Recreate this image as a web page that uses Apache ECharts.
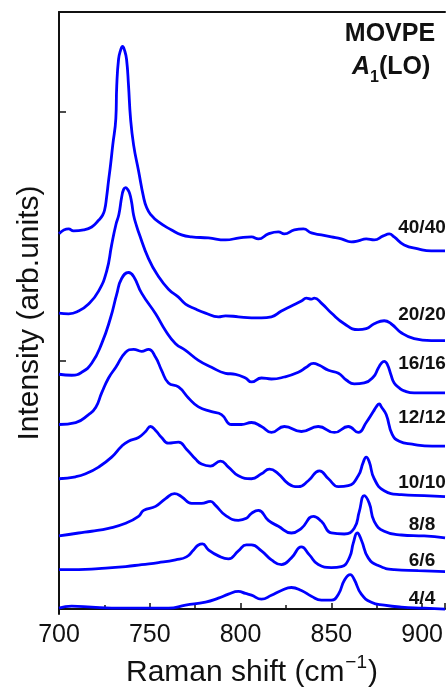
<!DOCTYPE html>
<html>
<head>
<meta charset="utf-8">
<script src="https://cdn.jsdelivr.net/npm/echarts@6/dist/echarts.min.js"></script>
<style>
  html, body { margin: 0; padding: 0; background: #ffffff; }
  #chart { width: 446px; height: 693px; }
</style>
</head>
<body>
<div id="chart"></div>
<script>
// Raman spectra (A1(LO) region) of MOVPE samples, stacked with vertical offsets.
// x: Raman shift in cm^-1, y: intensity in arbitrary units (offset included).
const xTickValues = [700, 750, 800, 850, 900];
const yTickValues = [0, 10, 20];
const sampleNames = ['40/40', '20/20', '16/16', '12/12', '10/10', '8/8', '6/6', '4/4'];

const spec40 = [
  [700,15.09],[705.3,15.28],[708,15.20],[713.6,15.24],[718,15.36],[721.8,15.63],[724,15.83],
  [725.2,16.07],[726.2,16.55],[727.3,17.22],[728.4,17.86],[729.6,18.65],[731.3,19.72],
  [731.8,21.03],[732.8,22.10],[733.9,22.46],[735,22.62],[736.1,22.46],[737.2,22.10],
  [738.3,21.03],[739.4,19.72],[741.1,18.65],[743.8,17.62],[746.6,16.55],[748.2,16.15],
  [750.4,15.87],[754.8,15.56],[762,15.24],[767.5,15.04],[773,14.96],[782.3,14.92],[791.7,14.84],
  [799.4,14.92],[806,14.96],[809.8,14.88],[815.3,15.08],[820.8,15.16],[824.1,15.08],[829.6,15.24],
  [834.6,15.28],[839,15.12],[844.5,15.04],[850,14.96],[855.5,14.88],[861,14.76],[864.8,14.80],
  [869.2,14.88],[873.6,14.84],[878.6,15.00],[881.9,15.08],[884.6,14.96],[890.1,14.64],
  [897.8,14.48],[905,14.40],[912.6,14.40]
];
const spec20 = [
  [700,11.90],[705.3,11.87],[710.8,11.98],[716.3,12.26],[721.8,12.78],[726.2,13.57],[729,14.64],
  [731.3,15.44],[733,15.87],[734.5,16.55],[735.6,16.87],[736.7,16.94],[737.8,16.87],
  [738.9,16.71],[740,16.35],[741.1,15.83],[742.7,15.40],[743.8,15.16],[749.3,14.09],
  [754.8,13.37],[760.3,12.86],[765.8,12.54],[769.7,12.26],[775.2,12.06],[780.7,11.90],
  [787.8,11.75],[791.7,11.79],[798.8,11.75],[806,11.71],[811.5,11.71],[817,11.75],[822.5,11.98],
  [828,12.18],[833.5,12.38],[836.2,12.50],[839,12.46],[840.6,12.50],[844.5,12.30],[850,11.90],
  [857.1,11.47],[864.8,11.23],[869.2,11.27],[873.6,11.47],[879.1,11.59],[882.9,11.47],
  [888.5,11.11],[895.6,10.87],[905,10.79],[912.6,10.79]
];
const spec16 = [
  [700,9.44],[707,9.40],[712.5,9.52],[718,9.88],[723.5,10.67],[728.4,11.71],[731.8,12.66],
  [734.5,13.29],[738.3,13.53],[741.1,13.37],[745.5,12.70],[753.2,11.87],[758.7,11.19],
  [764.2,10.67],[769.7,10.40],[776.8,10.00],[784,9.72],[791.7,9.48],[797.2,9.44],[802.7,9.29],
  [806,9.13],[811.5,9.29],[817,9.25],[824.1,9.33],[831.8,9.52],[836.2,9.72],[840.1,9.88],
  [843.4,9.80],[848.4,9.60],[853.9,9.48],[858.2,9.21],[862.6,9.05],[868.1,9.09],[873.1,9.33],
  [875.8,9.68],[877.5,9.88],[879.1,9.96],[880.8,9.84],[882.9,9.40],[884.6,9.09],[887.4,8.89],
  [890.1,8.77],[895.6,8.69],[912.6,8.69]
];
const spec12 = [
  [700,7.42],[709.2,7.50],[716.3,7.82],[720.2,8.10],[723.5,8.69],[727.3,9.29],[731.3,9.72],
  [736.7,10.32],[741.1,10.44],[745.5,10.36],[749.3,10.44],[753.2,10.12],[756.5,9.60],
  [760.3,9.09],[765.8,8.93],[771.3,8.49],[776.8,8.13],[784,7.94],[789.5,7.82],[795,7.42],
  [800.5,7.42],[806,7.50],[811.5,7.34],[817,7.10],[824.1,7.34],[833.5,7.14],[842.8,7.34],
  [851.7,7.10],[859.3,7.34],[864.8,7.10],[869.2,7.50],[873.1,7.94],[874.7,8.13],[876.4,8.25],
  [877.5,8.13],[880.2,7.82],[883.5,7.02],[887.4,6.75],[894.5,6.63],[905.5,6.55],[912.6,6.55]
];
const spec10 = [
  [700,5.24],[709.2,5.32],[714.7,5.44],[721.8,5.71],[729,6.11],[734.5,6.55],[738.3,6.75],
  [743.8,6.90],[747.7,7.14],[750.4,7.34],[753.2,7.18],[756.5,6.90],[760.3,6.67],[765.8,6.71],
  [770.2,6.43],[775.2,6.03],[778.5,5.83],[783.4,5.75],[788.9,5.95],[793.3,5.71],[798.8,5.36],
  [806,5.24],[811.5,5.44],[815.9,5.63],[820.8,5.44],[826.3,5.04],[831.8,4.92],[837.3,5.16],
  [843.4,5.56],[848.4,5.24],[853.9,4.92],[859.3,4.96],[864.8,5.36],[867.6,5.91],[869.2,6.11],
  [870.9,5.91],[873.6,5.24],[879.1,4.76],[888.5,4.60],[901.1,4.56],[912.6,4.52]
];
const spec8 = [
  [700,2.94],[710.8,3.06],[718,3.13],[727.3,3.25],[736.7,3.45],[743.8,3.73],[746.6,3.97],
  [753.2,4.13],[758.7,4.44],[763.6,4.64],[767.5,4.52],[773,4.25],[778.5,4.25],[783.4,4.33],
  [786.2,4.17],[791.7,3.77],[798.8,3.57],[803.2,3.65],[806,3.85],[809.8,3.97],[815.3,3.57],
  [820.8,3.33],[828,3.06],[833.5,3.25],[840.1,3.73],[844.5,3.53],[850,3.06],[857.1,3.02],
  [862.6,3.25],[865.4,3.93],[868.1,4.56],[870.9,4.25],[873.6,3.53],[879.1,3.13],[888.5,2.98],
  [901.1,2.94],[912.6,2.86]
];
const spec6 = [
  [700,1.59],[710.8,1.59],[721.8,1.63],[736.7,1.71],[745.5,1.79],[754.8,1.87],[764.2,1.98],
  [770.2,2.10],[774.1,2.38],[776.8,2.58],[779,2.62],[782.3,2.38],[787.8,2.14],[793.3,2.02],
  [798.8,2.34],[803.2,2.58],[806,2.58],[811.5,2.34],[817,1.98],[822.5,1.79],[828,2.06],
  [833.5,2.50],[837.9,2.18],[842.8,1.79],[850,1.67],[855.5,1.71],[859.9,2.06],[862.1,2.66],
  [864.3,3.06],[866.5,2.78],[870.3,2.06],[875.8,1.75],[884.6,1.59],[897.8,1.55],[912.6,1.51]
];
const spec4 = [
  [700,0.04],[707,0.12],[718,0.08],[729,0.04],[742.2,0.04],[753.2,0.04],[760.3,0.04],
  [769.7,0.16],[780.7,0.28],[787.8,0.44],[793.3,0.60],[798.8,0.71],[802.7,0.63],[806,0.56],
  [811.5,0.40],[817,0.56],[822.5,0.75],[828,0.87],[833.5,0.75],[839,0.52],[844.5,0.36],
  [850,0.36],[853.9,0.60],[857.1,1.15],[860.4,1.39],[862.6,1.19],[866.5,0.60],[872,0.28],
  [879.1,0.16],[888.5,0.08],[901.1,0.04],[912.6,0.00]
];

const spectra = [spec40, spec20, spec16, spec12, spec10, spec8, spec6, spec4];

const FONT = '"Liberation Sans", Arial, Helvetica, sans-serif';
const INK = '#111111';
const LINE_BLUE = '#0000ff';

const chart = echarts.init(document.getElementById('chart'), null, { renderer: 'canvas' });

// Sample labels at the right end of each trace
const labelY = [228, 315, 364, 418, 483, 525, 561, 599];
const sampleLabels = sampleNames.map((name, i) => ({
  type: 'text',
  x: 422,
  y: labelY[i],
  style: {
    text: name,
    font: 'bold 19px ' + FONT,
    fill: INK,
    textAlign: 'center',
    textVerticalAlign: 'middle'
  },
  z: 10
}));

const option = {
  animation: false,
  backgroundColor: '#ffffff',
  grid: { left: 59, right: 0, top: 12, bottom: 71, containLabel: false },
  xAxis: [
    {
      type: 'value',
      min: 700,
      max: 912.6,
      interval: 50,
      position: 'bottom',
      axisLine: { show: true, lineStyle: { color: INK, width: 2 } },
      axisTick: { show: true, inside: true, length: 6, lineStyle: { color: INK, width: 1.5 } },
      minorTick: { show: true, splitNumber: 2, length: 4, lineStyle: { color: INK, width: 1.5 } },
      splitLine: { show: false },
      axisLabel: {
        show: true,
        margin: 9,
        fontSize: 25,
        fontFamily: FONT,
        color: INK,
        customValues: xTickValues,
        formatter: v => String(v)
      },
      name: '{t|Raman shift (cm}{s|\u22121}{t|)}',
      nameLocation: 'middle',
      nameGap: 37,
      nameTextStyle: {
        rich: {
          t: { fontSize: 30, fontFamily: FONT, color: INK, lineHeight: 35, verticalAlign: 'bottom' },
          s: { fontSize: 19, fontFamily: FONT, color: INK, lineHeight: 35, verticalAlign: 'top', padding: [0, 1, 0, 1] }
        }
      }
    },
    {
      type: 'value',
      min: 700,
      max: 912.6,
      position: 'top',
      axisLine: { show: true, lineStyle: { color: INK, width: 2 } },
      axisTick: { show: false },
      axisLabel: { show: false },
      splitLine: { show: false }
    }
  ],
  yAxis: {
    type: 'value',
    min: -0.2,
    max: 24,
    axisLine: { show: true, lineStyle: { color: INK, width: 2 } },
    axisTick: { show: true, inside: true, length: 7, lineStyle: { color: INK, width: 1.5 }, customValues: yTickValues },
    axisLabel: { show: false, customValues: yTickValues },
    splitLine: { show: false },
    name: 'Intensity (arb.units)',
    nameLocation: 'middle',
    nameGap: 14,
    nameTextStyle: { fontSize: 30, fontFamily: FONT, color: INK }
  },
  series: spectra.map((data, i) => ({
    name: sampleNames[i],
    type: 'line',
    xAxisIndex: 0,
    data: data,
    showSymbol: false,
    smooth: 0.5,
    clip: true,
    lineStyle: { color: LINE_BLUE, width: 2.8 },
    emphasis: { disabled: true }
  })),
  graphic: [
    {
      type: 'text',
      x: 390,
      y: 47,
      style: {
        text: 'MOVPE',
        font: 'bold 25px ' + FONT,
        fill: INK,
        textAlign: 'center',
        textVerticalAlign: 'bottom'
      },
      z: 10
    },
    {
      type: 'text',
      x: 352,
      y: 80,
      style: {
        text: '{a|A}{s|1}{b|(LO)}',
        font: 'bold 25px ' + FONT,
        fill: INK,
        textAlign: 'left',
        textVerticalAlign: 'bottom',
        rich: {
          a: { font: 'italic bold 25px ' + FONT, fill: INK, lineHeight: 30, verticalAlign: 'bottom' },
          s: { font: 'bold 16px ' + FONT, fill: INK, lineHeight: 30, verticalAlign: 'bottom', padding: [0, 0, -6, 0] },
          b: { font: 'bold 25px ' + FONT, fill: INK, lineHeight: 30, verticalAlign: 'bottom' }
        }
      },
      z: 10
    }
  ].concat(sampleLabels)
};

chart.setOption(option);
</script>
</body>
</html>
